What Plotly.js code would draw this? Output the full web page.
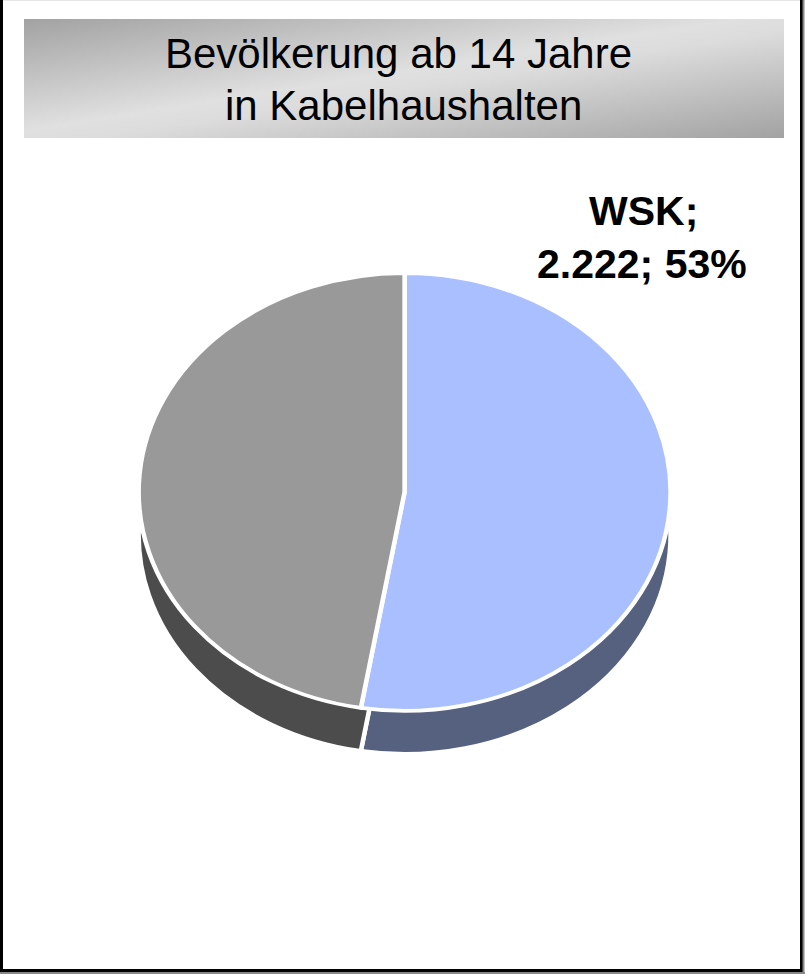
<!DOCTYPE html>
<html>
<head>
<meta charset="utf-8">
<script src="https://cdn.plot.ly/plotly-3.0.1.min.js"></script>
<style>
  html, body { margin: 0; padding: 0; background: #ffffff; }
  #wrap { position: relative; width: 805px; height: 974px; overflow: hidden; }
  #pie { position: absolute; left: 0; top: 0; width: 805px; height: 930px;
         transform: scaleY(0.823); transform-origin: 0 0; }
  #overlay { position: absolute; left: 0; top: 0; width: 805px; height: 974px; }
</style>
</head>
<body>
<div id="wrap">
  <div id="pie"></div>
  <div id="overlay"></div>
</div>
<script>
// ---- data ----
const categories = ['WSK', 'Andere'];
const values = [2222, 2000];
const titleLines = ['Bevölkerung ab 14 Jahre', 'in Kabelhaushalten'];
const labelledCategory = 'WSK';

// ---- styles ----
const topColors = ['#aabfff', '#999999'];
const sideColors = ['#56607f', '#4c4c4c'];
const FONT = 'Liberation Sans, Arial, sans-serif';

// ---- pie layer (circle squashed into an ellipse by CSS) ----
const PW = 805, PH = 930, K = 0.823;
const LW = 4.5;
const cx = 404.6, r = 263.7 + LW / 2;
const cyTop = 492 / K, cyDepth = (492 + 43) / K;
function dom(cy) {
  return { x: [(cx - r) / PW, (cx + r) / PW], y: [1 - (cy + r) / PH, 1 - (cy - r) / PH] };
}
const pieBase = {
  type: 'pie', values: values, labels: categories, sort: false,
  direction: 'clockwise', rotation: 0, textinfo: 'none',
  hoverinfo: 'label+value+percent', showlegend: false
};
Plotly.newPlot('pie', [
  Object.assign({}, pieBase, { domain: dom(cyDepth), marker: { colors: sideColors, line: { color: '#ffffff', width: LW } } }),
  Object.assign({}, pieBase, { domain: dom(cyTop), marker: { colors: topColors, line: { color: '#ffffff', width: LW } } })
], {
  width: PW, height: PH, margin: { l: 0, r: 0, t: 0, b: 0 },
  paper_bgcolor: 'rgba(0,0,0,0)', plot_bgcolor: 'rgba(0,0,0,0)', showlegend: false
}, { staticPlot: true });

// ---- overlay: frame, title box, texts ----
const W = 805, H = 974;
const px = v => v / W, py = v => 1 - v / H;

function fmtDE(n) { return String(Math.round(n)).replace(/\B(?=(\d{3})+(?!\d))/g, '.'); }
const total = values.reduce((a, b) => a + b, 0);
const idx = categories.indexOf(labelledCategory);
const pct = Math.round(values[idx] / total * 100);
const labelLine1 = categories[idx] + ';';
const labelLine2 = fmtDE(values[idx]) + '; ' + pct + '%';

const svg = '<svg xmlns="http://www.w3.org/2000/svg" width="760" height="119" viewBox="0 0 760 119" preserveAspectRatio="none">' +
  '<defs><linearGradient id="g" x1="0" y1="0" x2="1" y2="1">' +
  '<stop offset="0" stop-color="#a2a2a2"/><stop offset="0.47" stop-color="#e0e0e0"/>' +
  '<stop offset="0.55" stop-color="#dcdcdc"/><stop offset="1" stop-color="#a2a2a2"/>' +
  '</linearGradient></defs><rect x="0" y="0" width="760" height="119" fill="url(#g)"/></svg>';
const svgUri = 'data:image/svg+xml;base64,' + btoa(svg);

const annotations = [
  { text: titleLines[0], x: px(398.5), y: py(53.5), font: { family: FONT, size: 42, color: '#000' } },
  { text: titleLines[1], x: px(403), y: py(105.5), font: { family: FONT, size: 42, color: '#000' } },
  { text: '<b>' + labelLine1 + '</b>', x: px(643), y: py(211), font: { family: FONT, size: 41, color: '#000' } },
  { text: '<b>' + labelLine2 + '</b>', x: px(642), y: py(264), font: { family: FONT, size: 41, color: '#000' } }
].map(a => Object.assign({ xref: 'paper', yref: 'paper', xanchor: 'center', yanchor: 'middle', showarrow: false }, a));

const shapes = [
  { type: 'line', xref: 'paper', yref: 'paper', x0: px(0), x1: px(805), y0: py(0.5), y1: py(0.5), line: { color: '#e6e6e6', width: 1 } },
  { type: 'line', xref: 'paper', yref: 'paper', x0: px(1.5), x1: px(1.5), y0: py(0), y1: py(972), line: { color: '#000', width: 3 } },
  { type: 'line', xref: 'paper', yref: 'paper', x0: px(801.5), x1: px(801.5), y0: py(0), y1: py(972), line: { color: '#000', width: 3 } },
  { type: 'line', xref: 'paper', yref: 'paper', x0: px(0), x1: px(803), y0: py(970.5), y1: py(970.5), line: { color: '#000', width: 3 } },
  { type: 'line', xref: 'paper', yref: 'paper', x0: px(803.5), x1: px(803.5), y0: py(0), y1: py(974), line: { color: '#888', width: 2 } },
  { type: 'line', xref: 'paper', yref: 'paper', x0: px(0), x1: px(805), y0: py(973), y1: py(973), line: { color: '#888', width: 2 } }
];

Plotly.newPlot('overlay', [], {
  width: W, height: H, margin: { l: 0, r: 0, t: 0, b: 0 },
  paper_bgcolor: 'rgba(0,0,0,0)', plot_bgcolor: 'rgba(0,0,0,0)',
  xaxis: { visible: false, range: [0, 1] }, yaxis: { visible: false, range: [0, 1] },
  showlegend: false,
  images: [{ source: svgUri, xref: 'paper', yref: 'paper', x: px(24), y: py(19),
             sizex: 760 / W, sizey: 119 / H, sizing: 'stretch', xanchor: 'left', yanchor: 'top', layer: 'below' }],
  shapes: shapes,
  annotations: annotations
}, { staticPlot: true });
</script>
</body>
</html>
